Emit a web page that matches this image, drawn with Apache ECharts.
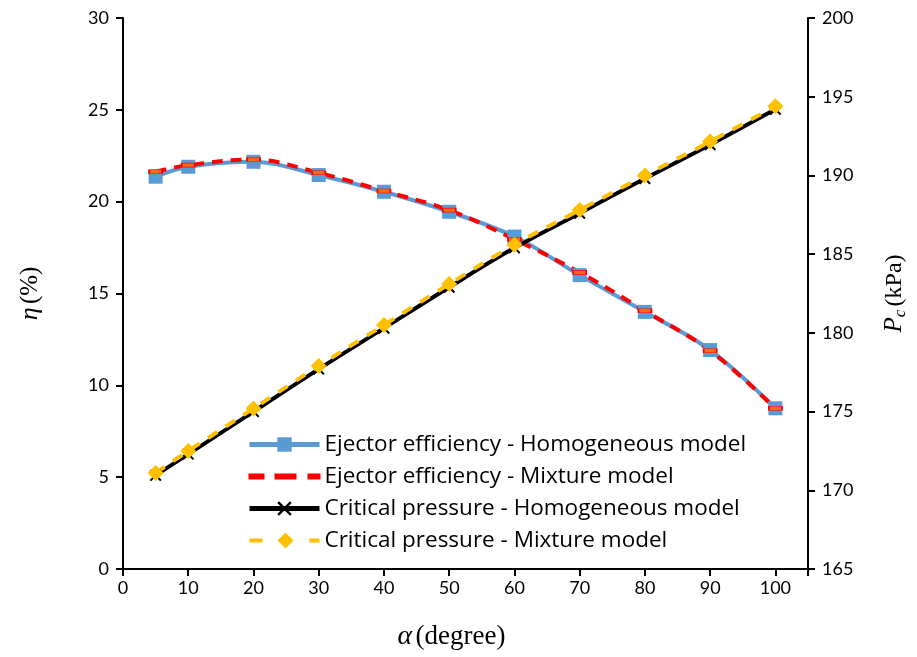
<!DOCTYPE html>
<html>
<head>
<meta charset="utf-8">
<script src="https://cdn.jsdelivr.net/npm/echarts@6/dist/echarts.min.js"></script>
<style>html,body{margin:0;padding:0;background:#fff;}#c{width:917px;height:657px;}</style>
</head>
<body>
<div id="c"></div>
<script>
const alpha = [5, 10, 20, 30, 40, 50, 60, 70, 80, 90, 100];
const effHomogeneous = [21.36, 21.9, 22.17, 21.45, 20.54, 19.45, 18.1, 16.0, 14.0, 11.92, 8.75];
const effMixture = [21.63, 21.99, 22.3, 21.57, 20.58, 19.54, 17.95, 16.15, 14.06, 11.88, 8.75];
const pcHomogeneous = [170.95, 172.3, 175.0, 177.7, 180.3, 182.9, 185.4, 187.6, 189.8, 191.95, 194.2];
const pcMixture = [171.1, 172.5, 175.2, 177.9, 180.5, 183.1, 185.6, 187.8, 190.0, 192.15, 194.4];
const xTicks = [0, 10, 20, 30, 40, 50, 60, 70, 80, 90, 100];
const names = [
  'Ejector efficiency - Homogeneous model',
  'Ejector efficiency - Mixture model',
  'Critical pressure - Homogeneous model',
  'Critical pressure - Mixture model'
];

const pair = (xs, ys) => xs.map((x, i) => [x, ys[i]]);
const xPath = 'path://M0,1.2 L1.2,0 L5,3.8 L8.8,0 L10,1.2 L6.2,5 L10,8.8 L8.8,10 L5,6.2 L1.2,10 L0,8.8 L3.8,5 Z';
const bbox = 'M0,0 M70,18 ';
const redIcon = 'path://' + bbox + 'M0,7 L14,7 L14,11 L0,11 Z M26,7 L46,7 L46,11 L26,11 Z M59,7 L70,7 L70,11 L59,11 Z';
const yellowIcon = 'path://' + bbox + 'M0,7 L13,7 L13,11 L0,11 Z M36,1 L44,9 L36,17 L28,9 Z M60,7 L70,7 L70,11 L60,11 Z';
const font = 'Lato, "Open Sans", sans-serif';
const legendFont = '"Open Sans", Lato, sans-serif';
const serif = '"Liberation Serif", "DejaVu Serif", serif';

const chart = echarts.init(document.getElementById('c'));
chart.setOption({
  animation: false,
  backgroundColor: '#fff',
  grid: { left: 123, right: 107, top: 18, bottom: 88 },
  legend: {
    left: 247, top: 433, orient: 'vertical', padding: 0,
    itemWidth: 70, itemHeight: 18, itemGap: 9,
    textStyle: { fontFamily: legendFont, fontSize: 22.5, color: '#000' },
    data: [
      { name: names[0], lineStyle: { width: 5 } },
      { name: names[1], icon: redIcon, itemStyle: { color: '#FF0000' } },
      { name: names[2], lineStyle: { width: 5 } },
      { name: names[3], icon: yellowIcon, itemStyle: { color: '#FFC000' } }
    ]
  },
  xAxis: {
    type: 'value', min: 0, max: 105, interval: 10,
    name: '{a|α} {n|(degree)}', nameLocation: 'middle', nameGap: 54,
    nameTextStyle: { padding: [0, 28, 0, 0], rich: {
      a: { fontFamily: serif, fontStyle: 'italic', fontSize: 28, color: '#000' },
      n: { fontFamily: serif, fontSize: 27, color: '#000' } } },
    axisLine: { lineStyle: { color: '#000', width: 2 } },
    axisTick: { length: 7, lineStyle: { color: '#000', width: 2 } },
    axisLabel: { fontFamily: font, fontSize: 18, color: '#000', margin: 10,
      formatter: v => (xTicks.indexOf(v) >= 0 ? String(v) : '') },
    splitLine: { show: false }
  },
  yAxis: [{
    type: 'value', min: 0, max: 30, interval: 5, position: 'left',
    name: '{a|η} {n|(%)}', nameLocation: 'middle', nameGap: 80,
    nameTextStyle: { rich: {
      a: { fontFamily: serif, fontStyle: 'italic', fontSize: 26, color: '#000' },
      n: { fontFamily: serif, fontSize: 25, color: '#000' } } },
    axisLine: { show: true, lineStyle: { color: '#000', width: 2 } },
    axisTick: { show: true, length: 7, lineStyle: { color: '#000', width: 2 } },
    axisLabel: { fontFamily: font, fontSize: 18, color: '#000', margin: 14 },
    splitLine: { show: false }
  }, {
    type: 'value', min: 165, max: 200, interval: 5, position: 'right',
    name: '{a|P}{s|c} {n|(kPa)}', nameLocation: 'middle', nameGap: 72,
    nameTextStyle: { rich: {
      a: { fontFamily: serif, fontStyle: 'italic', fontSize: 25, color: '#000' },
      s: { fontFamily: serif, fontStyle: 'italic', fontSize: 17, color: '#000', verticalAlign: 'bottom', padding: [12, 0, 0, 0] },
      n: { fontFamily: serif, fontSize: 24, color: '#000' } } },
    axisLine: { show: true, lineStyle: { color: '#000', width: 2 } },
    axisTick: { show: true, length: 7, lineStyle: { color: '#000', width: 2 } },
    axisLabel: { fontFamily: font, fontSize: 18, color: '#000', margin: 14 },
    splitLine: { show: false }
  }],
  series: [{
    name: names[0], type: 'line', yAxisIndex: 0, smooth: 0.35,
    data: pair(alpha, effHomogeneous),
    symbol: 'rect', symbolSize: 14,
    lineStyle: { color: '#5B9BD5', width: 4 },
    itemStyle: { color: '#5B9BD5' }
  }, {
    name: names[1], type: 'line', yAxisIndex: 0, smooth: 0.35,
    data: pair(alpha, effMixture),
    symbol: 'rect', symbolSize: [13, 4],
    lineStyle: { color: '#FF0000', width: 4, type: [11, 8] },
    itemStyle: { color: '#FF6A1A', borderColor: '#FF0000', borderWidth: 1 }
  }, {
    name: names[2], type: 'line', yAxisIndex: 1, smooth: 0.35,
    data: pair(alpha, pcHomogeneous),
    symbol: xPath, symbolSize: 12,
    lineStyle: { color: '#000', width: 4 },
    itemStyle: { color: '#000' }
  }, {
    name: names[3], type: 'line', yAxisIndex: 1, smooth: 0.35,
    data: pair(alpha, pcMixture),
    symbol: 'diamond', symbolSize: 16,
    lineStyle: { color: '#FFC000', width: 4, type: [11, 10] },
    itemStyle: { color: '#FFC000' }
  }]
});
</script>
</body>
</html>
